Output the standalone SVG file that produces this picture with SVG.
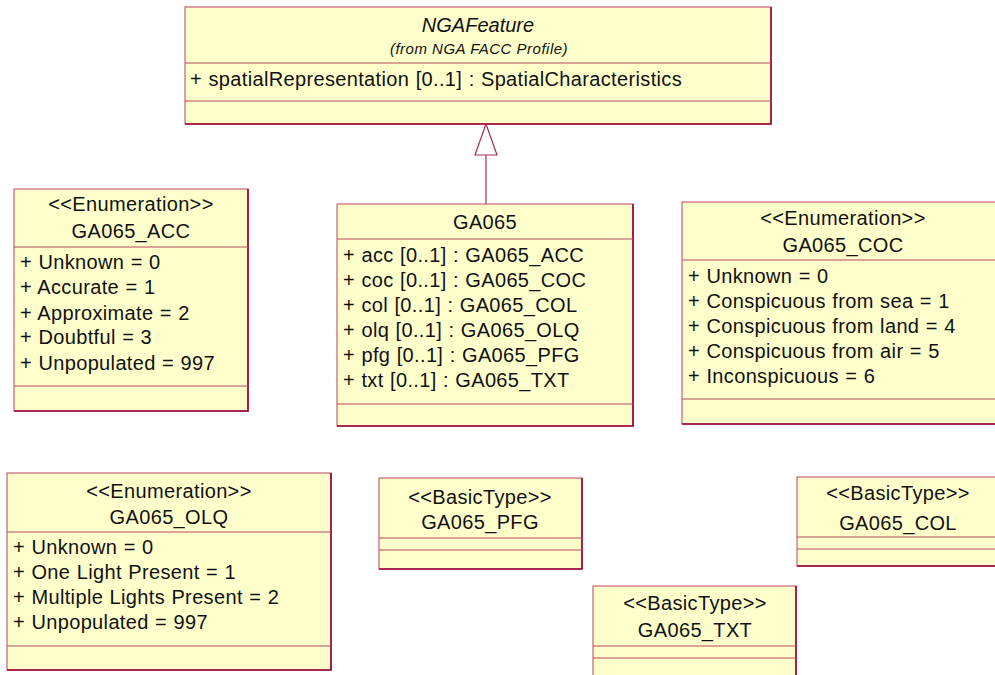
<svg xmlns="http://www.w3.org/2000/svg" width="995" height="675" viewBox="0 0 995 675">
<style>
.box{fill:#FFFFCC;stroke:#C8607A;stroke-width:1.2}
.edge{fill:none;stroke:#990033;stroke-width:1.6}
.sep{stroke:#B8485F;stroke-width:1.2}
text{font-family:"Liberation Sans",Arial,sans-serif;font-size:20px;fill:#111;letter-spacing:0.35px;word-spacing:0.5px}
.c{text-anchor:middle}
.it{font-style:italic;letter-spacing:0}
.sm{font-size:15px;letter-spacing:0.5px;word-spacing:0}
.conn{fill:none;stroke:#A0304F;stroke-width:1.2}
</style>
<rect width="995" height="675" fill="#FFFFFF"/>
<g id="connectors">
<line class="conn" x1="486" y1="155" x2="486" y2="204"/>
<polygon points="486,124 475,155 497,155" fill="#FFFFFF" stroke="#A0304F" stroke-width="1.2"/>
</g>
<g id="NGAFeature">
<rect class="box" x="185" y="7" width="586" height="117"/>
<path class="edge" d="M771,7 V124 H185"/>
<line class="sep" x1="185" y1="63" x2="771" y2="63"/>
<line class="sep" x1="185" y1="101" x2="771" y2="101"/>
<text class="c it" x="478" y="32">NGAFeature</text>
<text class="c it sm" x="479" y="54">(from NGA FACC Profile)</text>
<text x="190" y="86">+ spatialRepresentation [0..1] : SpatialCharacteristics</text>
</g>
<g id="GA065_ACC">
<rect class="box" x="14" y="189" width="234" height="222"/>
<path class="edge" d="M248,189 V411 H14"/>
<line class="sep" x1="14" y1="247" x2="248" y2="247"/>
<line class="sep" x1="14" y1="386" x2="248" y2="386"/>
<text class="c" x="131" y="211">&lt;&lt;Enumeration&gt;&gt;</text>
<text class="c" x="131" y="238">GA065_ACC</text>
<text x="20" y="269">+ Unknown = 0</text>
<text x="20" y="294">+ Accurate = 1</text>
<text x="20" y="320">+ Approximate = 2</text>
<text x="20" y="344">+ Doubtful = 3</text>
<text x="20" y="370">+ Unpopulated = 997</text>
</g>
<g id="GA065">
<rect class="box" x="337" y="204" width="296" height="222"/>
<path class="edge" d="M633,204 V426 H337"/>
<line class="sep" x1="337" y1="239" x2="633" y2="239"/>
<line class="sep" x1="337" y1="404" x2="633" y2="404"/>
<text class="c" x="485" y="229">GA065</text>
<text x="343" y="262">+ acc [0..1] : GA065_ACC</text>
<text x="343" y="287">+ coc [0..1] : GA065_COC</text>
<text x="343" y="312">+ col [0..1] : GA065_COL</text>
<text x="343" y="337">+ olq [0..1] : GA065_OLQ</text>
<text x="343" y="362">+ pfg [0..1] : GA065_PFG</text>
<text x="343" y="387">+ txt [0..1] : GA065_TXT</text>
</g>
<g id="GA065_COC">
<rect class="box" x="682" y="202" width="323" height="222"/>
<path class="edge" d="M1005,202 V424 H682"/>
<line class="sep" x1="682" y1="260" x2="1005" y2="260"/>
<line class="sep" x1="682" y1="399" x2="1005" y2="399"/>
<text class="c" x="843" y="225">&lt;&lt;Enumeration&gt;&gt;</text>
<text class="c" x="843" y="252">GA065_COC</text>
<text x="688" y="283">+ Unknown = 0</text>
<text x="688" y="308">+ Conspicuous from sea = 1</text>
<text x="688" y="333">+ Conspicuous from land = 4</text>
<text x="688" y="358">+ Conspicuous from air = 5</text>
<text x="688" y="383">+ Inconspicuous = 6</text>
</g>
<g id="GA065_OLQ">
<rect class="box" x="7" y="473" width="324" height="197"/>
<path class="edge" d="M331,473 V670 H7"/>
<line class="sep" x1="7" y1="532" x2="331" y2="532"/>
<line class="sep" x1="7" y1="646" x2="331" y2="646"/>
<text class="c" x="169" y="498">&lt;&lt;Enumeration&gt;&gt;</text>
<text class="c" x="169" y="524">GA065_OLQ</text>
<text x="13" y="554">+ Unknown = 0</text>
<text x="13" y="579">+ One Light Present = 1</text>
<text x="13" y="604">+ Multiple Lights Present = 2</text>
<text x="13" y="629">+ Unpopulated = 997</text>
</g>
<g id="GA065_PFG">
<rect class="box" x="379" y="478" width="203" height="91"/>
<path class="edge" d="M582,478 V569 H379"/>
<line class="sep" x1="379" y1="538" x2="582" y2="538"/>
<line class="sep" x1="379" y1="550" x2="582" y2="550"/>
<text class="c" x="480" y="504">&lt;&lt;BasicType&gt;&gt;</text>
<text class="c" x="480" y="529">GA065_PFG</text>
</g>
<g id="GA065_TXT">
<rect class="box" x="593" y="586" width="203" height="100"/>
<path class="edge" d="M796,586 V686"/>
<line class="sep" x1="593" y1="646" x2="796" y2="646"/>
<line class="sep" x1="593" y1="658" x2="796" y2="658"/>
<text class="c" x="695" y="610">&lt;&lt;BasicType&gt;&gt;</text>
<text class="c" x="695" y="637">GA065_TXT</text>
</g>
<g id="GA065_COL">
<rect class="box" x="797" y="477" width="202" height="89"/>
<path class="edge" d="M999,477 V566 H797"/>
<line class="sep" x1="797" y1="537" x2="999" y2="537"/>
<line class="sep" x1="797" y1="549" x2="999" y2="549"/>
<text class="c" x="898" y="500">&lt;&lt;BasicType&gt;&gt;</text>
<text class="c" x="898" y="530">GA065_COL</text>
</g>
</svg>
